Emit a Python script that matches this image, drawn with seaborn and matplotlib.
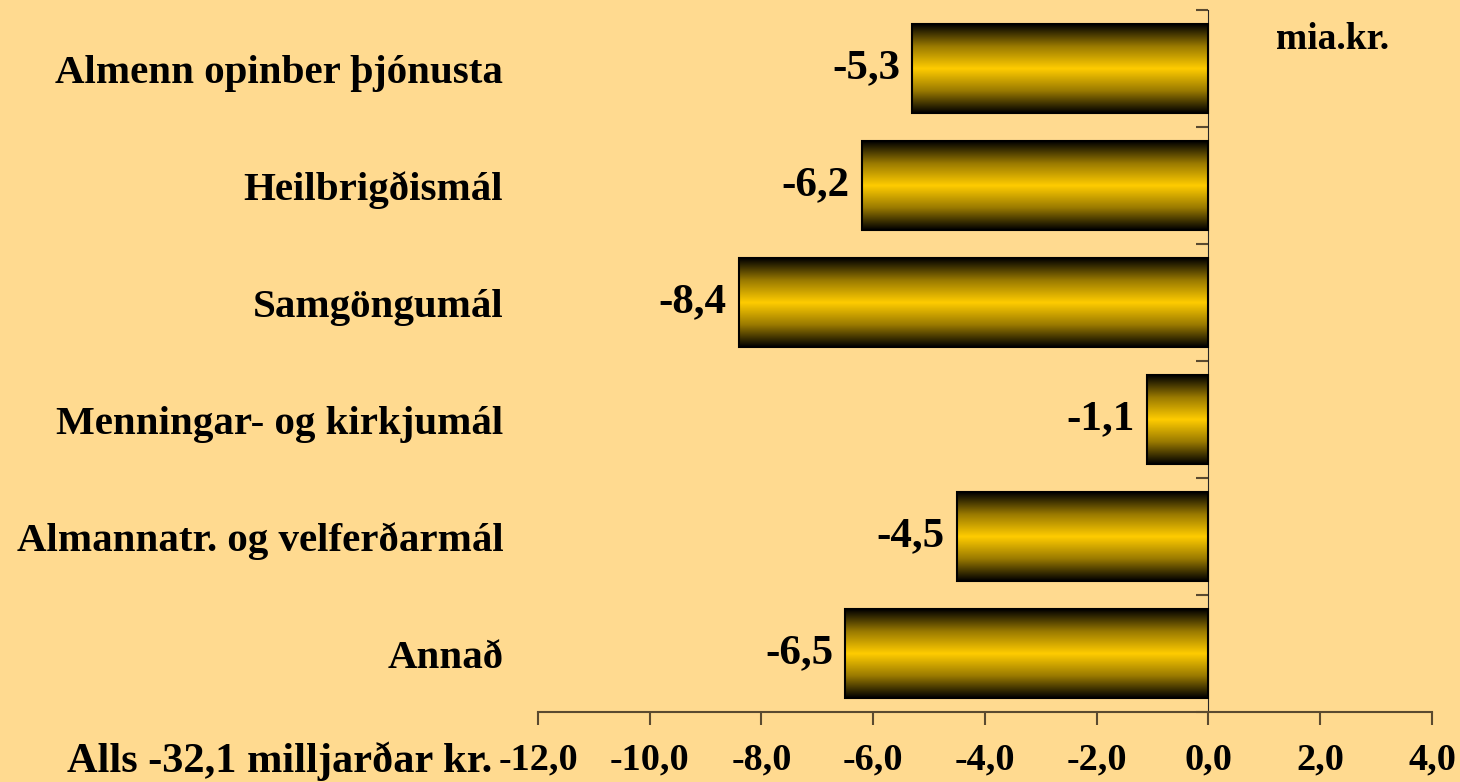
import numpy as np
import pandas as pd
import matplotlib
matplotlib.use('Agg')
import matplotlib.pyplot as plt
from matplotlib.colors import LinearSegmentedColormap
import seaborn as sns

# data
categories = ['Almenn opinber þjónusta', 'Heilbrigðismál', 'Samgöngumál',
              'Menningar- og kirkjumál', 'Almannatr. og velferðarmál', 'Annað']
values = [-5.3, -6.2, -8.4, -1.1, -4.5, -6.5]
xticks = [-12, -10, -8, -6, -4, -2, 0, 2, 4]

bg = '#FFDA90'
axcol = '#5a4a30'

sns.set_style('white')
plt.rcParams['font.family'] = ['Liberation Serif', 'DejaVu Serif']
plt.rcParams['font.weight'] = 'bold'
plt.rcParams['text.color'] = 'black'
plt.rcParams['xtick.color'] = 'black'
plt.rcParams['ytick.color'] = 'black'

df = pd.DataFrame({'cat': categories, 'val': values})

fig = plt.figure(figsize=(14.6, 7.82), dpi=100, facecolor=bg)
ax = fig.add_axes([0.3685, 0.0895, 0.6123, 0.8975])
ax.set_facecolor(bg)

sns.barplot(data=df, x='val', y='cat', orient='h', width=0.76, ax=ax,
            color='#FFCC00', edgecolor='black', linewidth=1.5)

# cylinder style gradient on each bar
cmap = LinearSegmentedColormap.from_list('cyl', ['#000000', '#9a7a00', '#FFCC00', '#9a7a00', '#000000'])
grad = np.linspace(0, 1, 256).reshape(-1, 1)
for p in ax.patches:
    x0, y0 = p.get_x(), p.get_y()
    w, h = p.get_width(), p.get_height()
    left = min(x0, x0 + w)
    im = ax.imshow(grad, cmap=cmap, aspect='auto', interpolation='bilinear',
                   extent=[left, left + abs(w), y0 + h, y0], zorder=p.get_zorder() + 0.1)
    im.set_clip_path(p)
    p.set_facecolor('none')
    p.set_zorder(p.get_zorder() + 0.2)
    ax.text(left - 0.22, y0 + h / 2, f'{w:.1f}'.replace('.', ','), ha='right', va='center',
            fontsize=31, fontweight='bold', color='black')

ax.set_xlim(-12, 4)
ax.set_ylim(5.5, -0.5)
ax.set_xticks(xticks)
ax.set_xticklabels([f'{t:.1f}'.replace('.', ',') for t in xticks])
ax.tick_params(axis='x', direction='out', length=9, width=1.5, color=axcol,
               pad=13, labelsize=27.5, bottom=True, labelcolor='black')
ax.tick_params(axis='y', length=0, pad=25, labelsize=29.5, labelcolor='black')
for lab in ax.get_xticklabels() + ax.get_yticklabels():
    lab.set_fontweight('bold')
ax.set_xlabel('')
ax.set_ylabel('')

for s in ['top', 'right', 'left']:
    ax.spines[s].set_visible(False)
ax.spines['bottom'].set_color(axcol)
ax.spines['bottom'].set_linewidth(1.5)

# vertical axis at zero with ticks between categories
sec = ax.secondary_yaxis(0.75)
sec.set_yticks(np.arange(-0.5, 6, 1))
sec.set_yticklabels([])
sec.tick_params(direction='in', length=9, width=1.5, color=axcol)
sec.spines['left'].set_color(axcol)
sec.spines['left'].set_linewidth(1.5)

fig.text(0.913, 0.95, 'mia.kr.', ha='center', va='center', fontsize=27, fontweight='bold')
fig.text(0.337, 0.026, 'Alls -32,1 milljarðar kr.', ha='right', va='center',
         fontsize=30.5, fontweight='bold')

fig.savefig('out.png', dpi=100, facecolor=bg)
